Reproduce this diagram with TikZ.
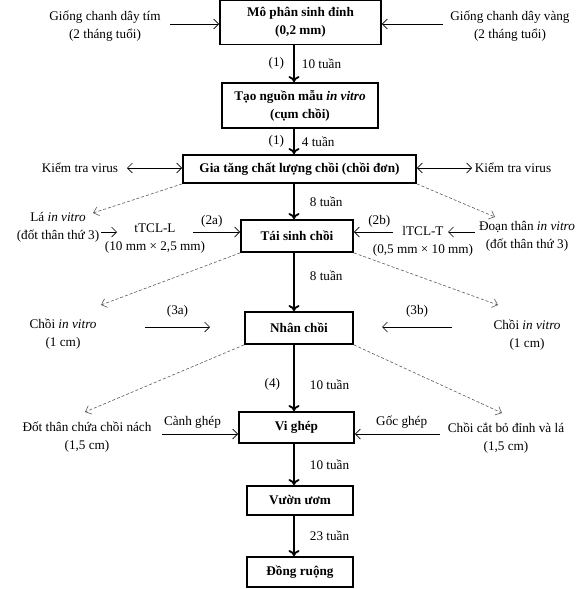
\documentclass[tikz,border=0pt]{standalone}
\usepackage{fontspec}
\setmainfont{Liberation Serif}
\usepackage{tikz}
\usetikzlibrary{positioning,arrows.meta,calc}

\begin{document}
\begin{tikzpicture}[x=1pt,y=-1pt,
  stage/.style={rectangle,draw,line width=1.8pt,align=center,inner sep=1pt,font=\fontsize{13.2}{18}\selectfont\bfseries,minimum width=#1},
  src/.style={align=center,inner sep=1pt,font=\fontsize{13.2}{18}\selectfont},
  lab/.style={inner sep=1pt,font=\fontsize{13.2}{15}\selectfont},
  flow/.style={-{To[length=6pt,width=11pt]},line width=1.8pt},
  side/.style={-{Straight Barb[length=5pt,width=10pt]},line width=0.7pt},
  both/.style={{Straight Barb[length=5pt,width=10pt]}-{Straight Barb[length=5pt,width=10pt]},line width=0.7pt},
  cut/.style={-{Straight Barb[length=5pt,width=9pt]},densely dashed,line width=0.6pt,gray!70!black},
]
\useasboundingbox (0,0) rectangle (588,589);
\coordinate (ax) at (294,0);

% Main stages
\node[stage=161pt,minimum height=44pt] (mps) at (300.5,22.5) {Mô phân sinh đỉnh\\(0,2 mm)};
\node[stage=156pt,minimum height=45pt] (tng) at (300,105.5) {Tạo nguồn mẫu \textit{in vitro}\\(cụm chồi)};
\node[stage=233pt,minimum height=28pt] (gtc) at (299.5,169) {Gia tăng chất lượng chồi (chồi đơn)};
\node[stage=112pt,minimum height=32pt] (tsc) at (297,236) {Tái sinh chồi};
\node[stage=108pt,minimum height=32pt] (nhc) at (299,328) {Nhân chồi};
\node[stage=115pt,minimum height=31pt] (vig) at (296.5,427.5) {Vi ghép};
\node[stage=106pt,minimum height=29pt] (vuo) at (300,500.5) {Vườn ươm};
\node[stage=106pt,minimum height=30pt] (dru) at (300,572) {Đồng ruộng};

% Main flow
\draw[flow] (mps.south -| ax) -- (tng.north -| ax)
  node[lab,midway,left=8pt] {(1)} node[lab,midway,right=6pt] {10 tuần};
\draw[flow] (tng.south -| ax) -- (gtc.north -| ax)
  node[lab,midway,left=8pt] {(1)} node[lab,midway,right=6pt] {4 tuần};
\draw[flow] (gtc.south -| ax) -- (tsc.north -| ax)
  node[lab,midway,right=14pt] {8 tuần};
\draw[flow] (tsc.south -| ax) -- (nhc.north -| ax)
  node[lab,pos=0.4,right=14pt] {8 tuần};
\draw[flow] (nhc.south -| ax) -- (vig.north -| ax)
  node[lab,pos=0.6,left=12pt] {(4)} node[lab,pos=0.6,right=14pt] {10 tuần};
\draw[flow] (vig.south -| ax) -- (vuo.north -| ax)
  node[lab,midway,right=14pt] {10 tuần};
\draw[flow] (vuo.south -| ax) -- (dru.north -| ax)
  node[lab,midway,right=14pt] {23 tuần};

% Source plants
\node[src] (tim) at (105,26) {Giống chanh dây tím\\(2 tháng tuổi)};
\node[src] (vang) at (510,26) {Giống chanh dây vàng\\(2 tháng tuổi)};
\coordinate (t0a) at (170,24);
\coordinate (t0b) at (443,24);
\draw[side] (t0a) -- (mps.west |- t0a);
\draw[side] (t0b) -- (mps.east |- t0b);

% Virus check
\node[src] (kv1) at (80,168) {Kiểm tra virus};
\node[src] (kv2) at (513,168) {Kiểm tra virus};
\coordinate (t1a) at (127,168);
\coordinate (t1b) at (472,168);
\draw[both] (t1a) -- (gtc.west |- t1a);
\draw[both] (gtc.east |- t1b) -- (t1b);

% Step 2: regeneration
\node[src] (la) at (58,227) {Lá \textit{in vitro}\\(đốt thân thứ 3)};
\node[src] (tcll) at (155,239) {tTCL-L\\(10 mm × 2,5 mm)};
\node[src] (dth) at (527,236) {Đoạn thân \textit{in vitro}\\(đốt thân thứ 3)};
\node[src] (tclt) at (423,241) {lTCL-T\\(0,5 mm × 10 mm)};
\coordinate (t2a) at (101,232);
\coordinate (t2b) at (117,232);
\coordinate (t2c) at (193,232);
\coordinate (t2d) at (393,232);
\coordinate (t2e) at (475,232);
\coordinate (t2f) at (448,232);
\draw[side] (t2a) -- (t2b);
\draw[side] (t2c) -- (tsc.west |- t2c)
  node[lab,pos=0.4,above=3pt] {(2a)};
\draw[side] (t2d) -- (tsc.east |- t2d)
  node[lab,pos=0.35,above=3pt] {(2b)};
\draw[side] (t2e) -- (t2f);
\coordinate (c1) at (93,213);
\coordinate (c2) at (495,217);
\draw[cut] (gtc.south west) -- (c1);
\draw[cut] (gtc.south east) -- (c2);

% Step 3: multiplication
\node[src] (cv1) at (63,334) {Chồi \textit{in vitro}\\(1 cm)};
\node[src] (cv2) at (527,335) {Chồi \textit{in vitro}\\(1 cm)};
\coordinate (t3a) at (145,327);
\coordinate (t3b) at (210,327);
\coordinate (t3c) at (452,327);
\coordinate (t3d) at (382,327);
\draw[side] (t3a) -- (t3b) node[lab,midway,above=8pt] {(3a)};
\draw[side] (t3c) -- (t3d) node[lab,midway,above=8pt] {(3b)};
\coordinate (c3) at (101,305);
\coordinate (c4) at (498,305);
\draw[cut] (tsc.south west) -- (c3);
\draw[cut] (tsc.south east) -- (c4);

% Step 4: micrografting
\node[src] (dtc) at (87,437) {Đốt thân chứa chồi nách\\(1,5 cm)};
\node[src] (ccb) at (506,438.5) {Chồi cắt bỏ đỉnh và lá\\(1,5 cm)};
\coordinate (t4a) at (162,434);
\coordinate (t4b) at (440,434);
\draw[side] (t4a) -- (vig.west |- t4a)
  node[lab,pos=0.4,above=4pt] {Cành ghép};
\draw[side] (t4b) -- (vig.east |- t4b)
  node[lab,pos=0.45,above=4pt] {Gốc ghép};
\coordinate (c5) at (85,412);
\coordinate (c6) at (502,413);
\draw[cut] (nhc.south west) -- (c5);
\draw[cut] (nhc.south east) -- (c6);
\end{tikzpicture}
\end{document}
